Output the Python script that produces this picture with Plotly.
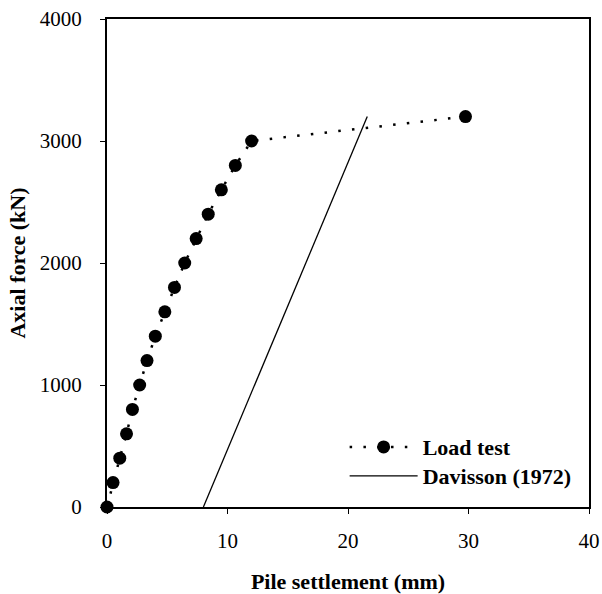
import plotly.graph_objects as go

# Load test: pile settlement (mm) vs axial force (kN)
settlement = [0.0, 0.5, 1.06, 1.62, 2.11, 2.71, 3.32, 4.01, 4.8, 5.6, 6.45,
              7.4, 8.4, 9.49, 10.65, 12.0, 29.75]
force = [0, 200, 400, 600, 800, 1000, 1200, 1400, 1600, 1800, 2000,
         2200, 2400, 2600, 2800, 3000, 3200]

# Davisson (1972) offset line
davisson_x = [8.0, 21.6]
davisson_y = [0, 3200]

x_ticks = [0, 10, 20, 30, 40]
y_ticks = [0, 1000, 2000, 3000, 4000]

font_family = "Liberation Serif, Times New Roman, serif"

fig = go.Figure()
fig.add_trace(go.Scatter(
    x=settlement, y=force, mode="lines+markers",
    name="<span style='font-size:22px'><b>Load test</b></span>",
    line=dict(color="black", width=2.5, dash="2.5px,11.3px"),
    marker=dict(color="black", size=13),
    cliponaxis=False,
))
fig.add_trace(go.Scatter(
    x=davisson_x, y=davisson_y, mode="lines",
    name="<span style='font-size:22px'><b>Davisson (1972)</b></span>",
    line=dict(color="black", width=1.3),
))

axis_common = dict(
    showline=True, linewidth=2, linecolor="black", mirror=True,
    ticks="outside", ticklen=5, tickwidth=1, tickcolor="black",
    showgrid=False, zeroline=False, automargin=False,
    tickfont=dict(family=font_family, size=21, color="black"),
)

fig.update_layout(
    width=602, height=594,
    margin=dict(l=107, r=13, t=19, b=87),
    paper_bgcolor="white", plot_bgcolor="white",
    font=dict(family=font_family, color="black"),
    xaxis=dict(range=[0, 40], tickvals=x_ticks, ticklabelstandoff=9,
               title=dict(text="<b>Pile settlement (mm)</b>",
                          font=dict(family=font_family, size=22), standoff=22),
               **axis_common),
    yaxis=dict(range=[0, 4000], tickvals=y_ticks, ticklabelstandoff=14,
               title=dict(text="<b>Axial force (kN)</b>",
                          font=dict(family=font_family, size=22), standoff=8),
               **axis_common),
    legend=dict(x=0.493, y=0.163, xanchor="left", yanchor="top",
                bgcolor="rgba(0,0,0,0)", tracegroupgap=0, itemwidth=68,
                font=dict(family=font_family, size=20, color="black")),
    showlegend=True,
)

fig.write_html("out.html")
